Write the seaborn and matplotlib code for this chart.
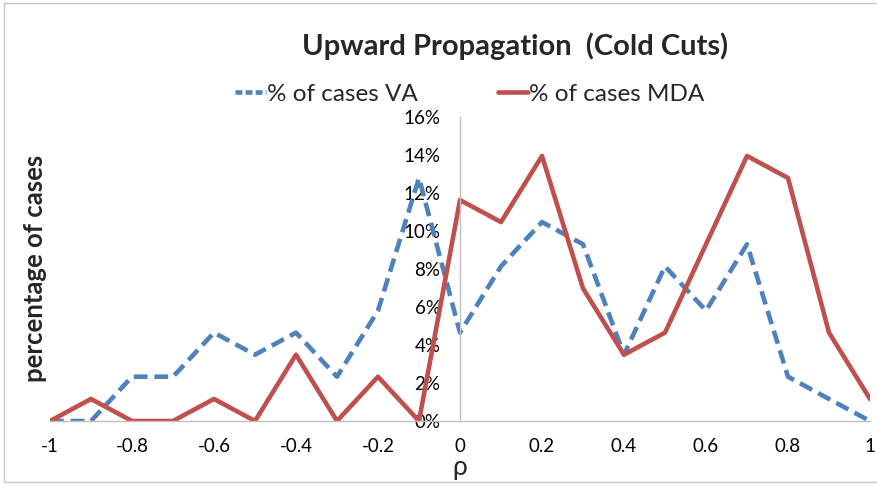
import numpy as np
import pandas as pd
import seaborn as sns
import matplotlib.pyplot as plt
from matplotlib.ticker import PercentFormatter, FixedLocator, FuncFormatter
from matplotlib.lines import Line2D

# rho values and percentage of cases
rho = [-1.0, -0.9, -0.8, -0.7, -0.6, -0.5, -0.4, -0.3, -0.2, -0.1, 0.0,
       0.1, 0.2, 0.3, 0.4, 0.5, 0.6, 0.7, 0.8, 0.9, 1.0]
pct_va = [0.0, 0.0, 2.33, 2.33, 4.65, 3.49, 4.65, 2.33, 5.81, 12.79, 4.65,
          8.14, 10.47, 9.30, 3.49, 8.14, 5.81, 9.30, 2.33, 1.16, 0.0]
pct_mda = [0.0, 1.16, 0.0, 0.0, 1.16, 0.0, 3.49, 0.0, 2.33, 0.0, 11.63,
           10.47, 13.95, 6.98, 3.49, 4.65, 9.30, 13.95, 12.79, 4.65, 1.16]
series_names = ["% of cases VA", "% of cases MDA"]
x_ticks = [-1, -0.8, -0.6, -0.4, -0.2, 0, 0.2, 0.4, 0.6, 0.8, 1]
y_ticks = [0, 2, 4, 6, 8, 10, 12, 14, 16]

df = pd.DataFrame({
    "rho": rho * 2,
    "pct": pct_va + pct_mda,
    "series": [series_names[0]] * len(rho) + [series_names[1]] * len(rho),
})

sns.set_style("white")
plt.rcParams["font.family"] = ["Lato", "DejaVu Sans"]

fig = plt.figure(figsize=(8.77, 4.87), dpi=100)
ax = fig.add_axes([50 / 877, 66 / 487, 820 / 877, 304 / 487])

palette = {series_names[0]: "#4F81BD", series_names[1]: "#C0504D"}
dashes = {series_names[0]: (3, 1.5), series_names[1]: ""}
sns.lineplot(data=df, x="rho", y="pct", hue="series", style="series",
             palette=palette, dashes=dashes, linewidth=3.3, ax=ax, legend=False)

ax.set_xlim(-1, 1)
ax.set_ylim(0, 16)
ax.xaxis.set_major_locator(FixedLocator(x_ticks))
ax.xaxis.set_major_formatter(FuncFormatter(lambda v, p: "{:g}".format(round(v, 1))))
ax.yaxis.set_major_locator(FixedLocator(y_ticks))
ax.yaxis.set_major_formatter(PercentFormatter(xmax=100, decimals=0))

for s in ["top", "right"]:
    ax.spines[s].set_visible(False)
ax.spines["left"].set_position(("data", 0))
ax.spines["left"].set_color("#c0c0c0")
ax.spines["bottom"].set_color("#c0c0c0")
ax.spines["left"].set_linewidth(1)
ax.spines["bottom"].set_linewidth(1)
ax.tick_params(axis="both", length=0, labelsize=13.5, colors="black")
ax.tick_params(axis="y", pad=14)
ax.tick_params(axis="x", pad=12)

ax.set_xlabel("")
ax.set_ylabel("")
fig.text(460 / 877, 1 - 468 / 487, "ρ", fontsize=19, ha="center", va="center")
fig.text(35 / 877, 1 - 268 / 487, "percentage of cases", rotation=90,
         fontsize=18.5, fontweight="bold", ha="center", va="center")

fig.text(515 / 877, 1 - 46 / 487, "Upward Propagation  (Cold Cuts)",
         fontsize=21, fontweight="bold", ha="center", va="center")

handles = [Line2D([], [], color="#4F81BD", lw=3.3, dashes=(1.5, 0.7)),
           Line2D([], [], color="#C0504D", lw=3.3)]
fig.legend(handles, series_names, loc="center", ncol=2,
           bbox_to_anchor=(470 / 877, 1 - 94 / 487), frameon=False,
           fontsize=17.5, handlelength=1.25, handletextpad=0.05, columnspacing=3.3)

# chart-area border (top, left, bottom)
border = dict(color="#c8c8c8", lw=1, transform=fig.transFigure)
fig.add_artist(Line2D([4 / 877, 1], [1 - 3 / 487, 1 - 3 / 487], **border))
fig.add_artist(Line2D([4 / 877, 4 / 877], [1 - 3 / 487, 1 - 482 / 487], **border))
fig.add_artist(Line2D([4 / 877, 1], [1 - 482 / 487, 1 - 482 / 487], **border))

fig.savefig("out.png", dpi=100)
